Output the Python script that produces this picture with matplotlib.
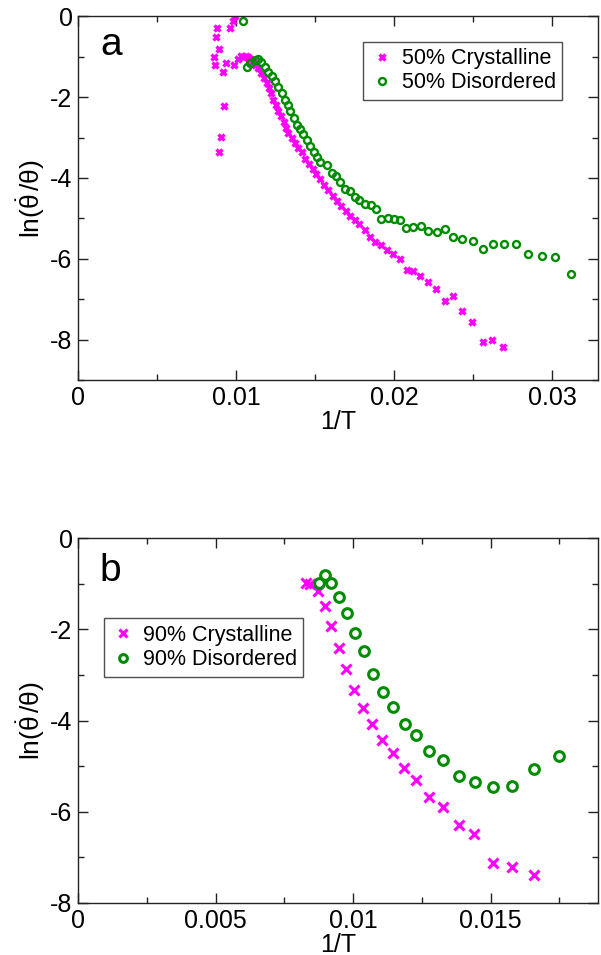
import matplotlib
matplotlib.use("Agg")
import matplotlib.pyplot as plt
from matplotlib.ticker import MultipleLocator, FuncFormatter

plt.rcParams['font.family'] = ['Liberation Sans', 'DejaVu Sans']
plt.rcParams['mathtext.fontset'] = 'custom'
plt.rcParams['mathtext.rm'] = 'Liberation Sans'
plt.rcParams['mathtext.it'] = 'Liberation Sans'

# panel a, 50% films
a_cryst_x = [0.00857, 0.00867, 0.00873, 0.00882, 0.00890, 0.00894, 0.00907, 0.00922, 0.00916, 0.00934,
             0.00962, 0.00979, 0.00990, 0.00985,
             0.01010, 0.01030, 0.01045, 0.01060, 0.01075, 0.01090, 0.01105, 0.01120,
             0.01140, 0.01160, 0.01177, 0.01194, 0.01210, 0.01220, 0.01236, 0.01253, 0.01268, 0.01283,
             0.01300, 0.01316, 0.01331, 0.01352, 0.01373, 0.01394, 0.01416, 0.01437, 0.01460, 0.01485,
             0.01505, 0.01530, 0.01557, 0.01584, 0.01610, 0.01637, 0.01662, 0.01694, 0.01720, 0.01750,
             0.01780, 0.01816, 0.01848, 0.01880, 0.01915, 0.01953, 0.01990, 0.02038, 0.02080, 0.02118,
             0.02165, 0.02217, 0.02266, 0.02320, 0.02370, 0.02430, 0.02490, 0.02560, 0.02620, 0.02690]
a_cryst_y = [-1.02, -1.20, -0.52, -0.28, -0.82, -3.36, -2.99, -2.21, -1.38, -1.15,
             -0.29, -0.12, 0.00, -1.20,
             -1.05, -0.98, -1.00, -0.98, -1.02, -1.05, -1.10, -1.20,
             -1.29, -1.41, -1.53, -1.65, -1.78, -1.90, -2.06, -2.19, -2.35, -2.47,
             -2.62, -2.76, -2.88, -3.00, -3.13, -3.25, -3.37, -3.52, -3.65, -3.78,
             -3.90, -4.02, -4.17, -4.31, -4.45, -4.56, -4.69, -4.81, -4.93, -5.05,
             -5.15, -5.28, -5.46, -5.59, -5.67, -5.77, -5.89, -6.01, -6.27, -6.31,
             -6.42, -6.57, -6.75, -7.04, -6.91, -7.28, -7.57, -8.07, -8.00, -8.19]

a_dis_x = [0.01046, 0.01067, 0.01090, 0.01120, 0.01140, 0.01160, 0.01184, 0.01204, 0.01226, 0.01247,
           0.01268, 0.01290, 0.01310, 0.01327, 0.01342, 0.01363, 0.01384, 0.01405, 0.01426, 0.01447,
           0.01468, 0.01490, 0.01510, 0.01530, 0.01574, 0.01605, 0.01633, 0.01658, 0.01690, 0.01720,
           0.01750, 0.01780, 0.01816, 0.01854, 0.01884, 0.01918, 0.01960, 0.02000, 0.02038, 0.02074,
           0.02122, 0.02169, 0.02217, 0.02270, 0.02320, 0.02375, 0.02432, 0.02496, 0.02560, 0.02624,
           0.02696, 0.02770, 0.02850, 0.02937, 0.03020, 0.03120]
a_dis_y = [-0.12, -1.25, -1.16, -1.08, -1.06, -1.12, -1.25, -1.37, -1.49, -1.61,
           -1.74, -1.90, -2.06, -2.19, -2.35, -2.51, -2.68, -2.80, -2.92, -3.05,
           -3.21, -3.35, -3.48, -3.60, -3.68, -3.88, -3.95, -4.10, -4.28, -4.33,
           -4.48, -4.54, -4.64, -4.67, -4.78, -5.02, -4.99, -5.01, -5.05, -5.23,
           -5.22, -5.19, -5.31, -5.34, -5.27, -5.45, -5.50, -5.55, -5.75, -5.63,
           -5.63, -5.63, -5.88, -5.94, -5.96, -6.38]

# panel b, 90% films
b_cryst_x = [0.00829, 0.00844, 0.00872, 0.00896, 0.00920, 0.00947, 0.00975, 0.01004, 0.01036, 0.01069,
             0.01104, 0.01144, 0.01184, 0.01227, 0.01274, 0.01326, 0.01383, 0.01441, 0.01508, 0.01579,
             0.01658]
b_cryst_y = [-0.99, -1.01, -1.16, -1.48, -1.93, -2.40, -2.86, -3.33, -3.72, -4.08,
             -4.43, -4.71, -5.03, -5.31, -5.67, -5.89, -6.29, -6.48, -7.12, -7.22,
             -7.38]

b_dis_x = [0.00874, 0.00896, 0.00920, 0.00949, 0.00977, 0.01007, 0.01038, 0.01071, 0.01107, 0.01144,
           0.01187, 0.01229, 0.01276, 0.01328, 0.01385, 0.01444, 0.01508, 0.01579, 0.01659, 0.01747]
b_dis_y = [-0.99, -0.81, -0.99, -1.29, -1.64, -2.08, -2.48, -2.97, -3.38, -3.71,
           -4.08, -4.31, -4.67, -4.87, -5.21, -5.34, -5.45, -5.44, -5.07, -4.78]

magenta = '#ff00ff'
green = '#008c00'
ylab = r'$\mathrm{ln(\dot{\theta}\,/\theta)}$'


def fmt(v, pos):
    if abs(v) < 1e-12:
        return '0'
    return ('%g' % v)


def style_axes(ax, xmaj, ymaj):
    ax.xaxis.set_major_locator(MultipleLocator(xmaj))
    ax.xaxis.set_minor_locator(MultipleLocator(xmaj / 2))
    ax.yaxis.set_major_locator(MultipleLocator(ymaj))
    ax.yaxis.set_minor_locator(MultipleLocator(ymaj / 2))
    ax.xaxis.set_major_formatter(FuncFormatter(fmt))
    ax.yaxis.set_major_formatter(FuncFormatter(fmt))
    ax.tick_params(which='both', direction='in', top=True, right=True,
                   labelsize=18, width=1.0, color='#222222')
    ax.tick_params(which='major', length=7, pad=4)
    ax.tick_params(which='minor', length=4)
    for s in ax.spines.values():
        s.set_linewidth(1.0)
        s.set_color('#222222')
    ax.set_xlabel('1/T', fontsize=18, labelpad=0)
    ax.set_ylabel(ylab, fontsize=19, labelpad=2)


fig = plt.figure(figsize=(6.01, 9.55), dpi=100)

ax1 = fig.add_axes([0.130, 0.602, 0.865, 0.381])
ax1.plot(a_cryst_x, a_cryst_y, linestyle='none', marker='x', ms=4.5, mew=2.4,
         color=magenta, label='50% Crystalline')
ax1.plot(a_dis_x, a_dis_y, linestyle='none', marker='o', ms=5, mew=1.7,
         mfc='none', mec=green, label='50% Disordered')
ax1.set_xlim(0, 0.0329)
ax1.set_ylim(-9, 0)
style_axes(ax1, 0.01, 2)
ax1.text(0.042, 0.92, 'a', transform=ax1.transAxes, fontsize=28, va='center')
ax1.legend(loc='upper left', bbox_to_anchor=(0.548, 0.93), fontsize=15.5,
           frameon=True, fancybox=False, edgecolor='#222222', borderpad=0.3,
           handletextpad=0.3, labelspacing=0.15, handlelength=1.2,
           borderaxespad=0).get_frame().set_linewidth(1.0)

ax2 = fig.add_axes([0.130, 0.0545, 0.865, 0.382])
ax2.plot(b_cryst_x, b_cryst_y, linestyle='none', marker='x', ms=6.5, mew=2.2,
         color=magenta, label='90% Crystalline')
ax2.plot(b_dis_x, b_dis_y, linestyle='none', marker='o', ms=7, mew=2.2,
         mfc='none', mec=green, label='90% Disordered')
ax2.set_xlim(0, 0.0189)
ax2.set_ylim(-8, 0)
style_axes(ax2, 0.005, 2)
ax2.text(0.042, 0.91, 'b', transform=ax2.transAxes, fontsize=28, va='center')
leg2 = ax2.legend(loc='upper left', bbox_to_anchor=(0.05, 0.78), fontsize=15.5,
                  frameon=True, fancybox=False, edgecolor='#222222', borderpad=0.3,
                  handletextpad=0.3, labelspacing=0.15, handlelength=1.2,
                  borderaxespad=0, markerscale=0.8)
leg2.get_frame().set_linewidth(1.0)

fig.savefig('out.png', dpi=100)
